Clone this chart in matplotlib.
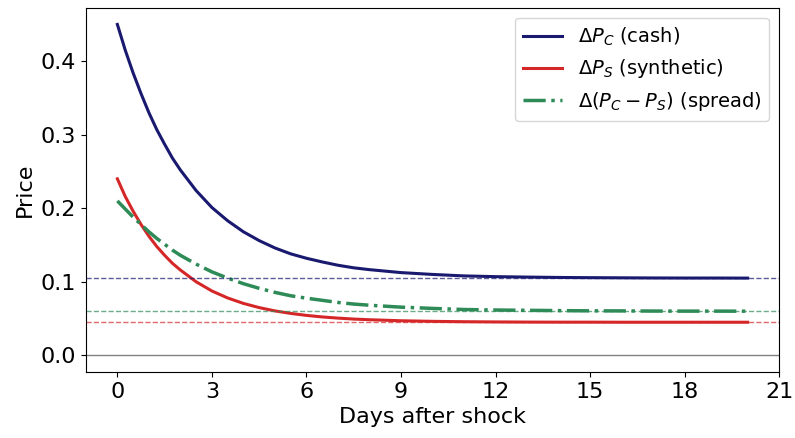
import matplotlib.pyplot as plt

# days after the shock
days = [0, 0.25, 0.5, 0.75, 1, 1.25, 1.5, 1.75, 2, 2.5, 3, 3.5, 4, 4.5, 5,
        5.5, 6, 6.5, 7, 7.5, 8, 9, 10, 11, 12, 13, 14, 15, 16, 17, 18, 19, 20]

# price changes
cash = [0.450, 0.415, 0.384, 0.356, 0.330, 0.307, 0.287, 0.268, 0.252, 0.224,
        0.201, 0.183, 0.168, 0.156, 0.146, 0.138, 0.132, 0.127, 0.1225, 0.119,
        0.1165, 0.1125, 0.110, 0.108, 0.107, 0.1064, 0.1059, 0.1056, 0.1054,
        0.1052, 0.1051, 0.1051, 0.1050]
synthetic = [0.240, 0.216, 0.196, 0.178, 0.162, 0.148, 0.136, 0.125, 0.116,
             0.100, 0.0875, 0.078, 0.0706, 0.0649, 0.0604, 0.057, 0.0543,
             0.0522, 0.0506, 0.0493, 0.0484, 0.0470, 0.0462, 0.0457, 0.0454,
             0.0452, 0.0451, 0.0451, 0.0450, 0.0450, 0.0450, 0.0450, 0.0450]
spread = [0.210, 0.199, 0.188, 0.178, 0.168, 0.159, 0.151, 0.143, 0.136,
          0.124, 0.1135, 0.105, 0.0974, 0.0911, 0.0856, 0.081, 0.0777, 0.0748,
          0.0719, 0.0697, 0.0681, 0.0655, 0.0638, 0.0623, 0.0616, 0.0612,
          0.0608, 0.0605, 0.0604, 0.0602, 0.0601, 0.0601, 0.0600]

# long-run levels
cash_level = 0.105
synthetic_level = 0.045
spread_level = 0.060

navy = '#191970'
red = '#d62728'
green = '#2e8b57'

fig, ax = plt.subplots(figsize=(7.95, 4.38), dpi=100)
fig.subplots_adjust(left=0.108, right=0.980, top=0.982, bottom=0.151)

ax.plot(days, cash, color=navy, lw=2.2, label=r'$\Delta P_C$ (cash)')
ax.plot(days, synthetic, color=red, lw=2.2, label=r'$\Delta P_S$ (synthetic)')
ax.plot(days, spread, color=green, lw=2.5, linestyle='-.',
        label=r'$\Delta(P_C - P_S)$ (spread)')

ax.axhline(cash_level, color=navy, lw=1, linestyle='--', alpha=0.7)
ax.axhline(spread_level, color=green, lw=1, linestyle='--', alpha=0.7)
ax.axhline(synthetic_level, color=red, lw=1, linestyle='--', alpha=0.7)
ax.axhline(0, color='gray', lw=1)

ax.set_xticks(range(0, 22, 3))
ax.set_xlabel('Days after shock', fontsize=16)
ax.set_ylabel('Price', fontsize=16)
ax.tick_params(labelsize=16)
ax.legend(loc='upper right', fontsize=14)

fig.savefig('out.png')
